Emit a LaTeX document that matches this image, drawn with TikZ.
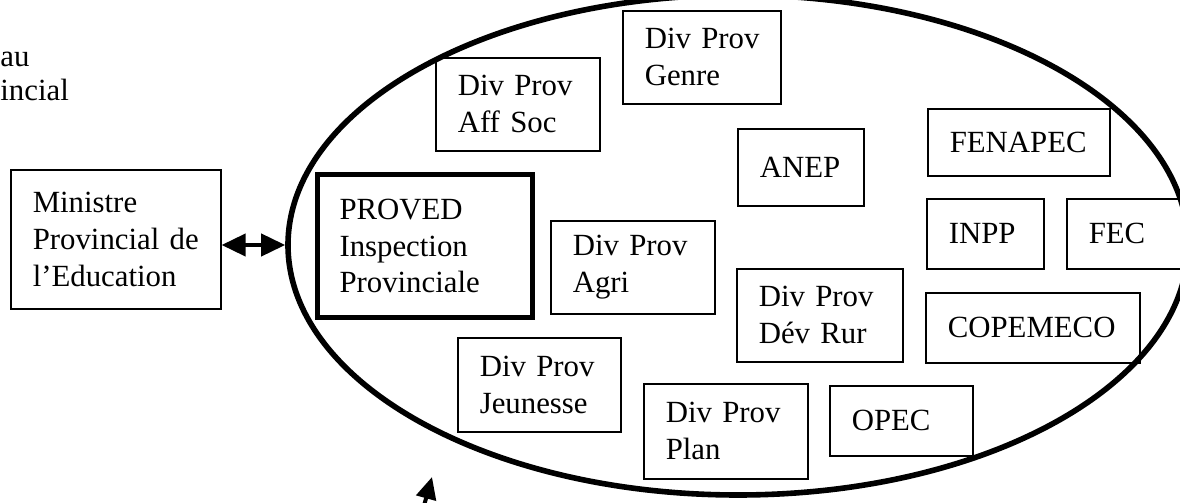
\documentclass[tikz,border=0pt]{standalone}
\usepackage{fontspec}
\setmainfont{Liberation Serif}
\usepackage{tikz}
\usetikzlibrary{calc}
\usetikzlibrary{arrows.meta}
\usetikzlibrary{shapes.geometric}
\newcommand{\orgfont}{\fontsize{15.4pt}{18.4pt}\selectfont}
\tikzset{
    orgbox/.style 2 args={draw, line width=0.8pt, anchor=north west, align=left,
        inner xsep=11pt, inner ysep=0pt, text width=#1, minimum height=#2, font=\orgfont},
    headbox/.style={line width=2.5pt},
    bothways/.style={line width=2pt, {Triangle[length=12pt, width=11pt]}-{Triangle[length=12pt, width=11pt]}},
    pointer/.style={line width=2pt, -{Triangle[length=11pt, width=10pt]}}
}
\begin{document}
\begin{tikzpicture}[x=0.5pt, y=0.5pt]
            % Frame to fix the page:
            \useasboundingbox                                                 (0, 0) rectangle (1180, -503);
            % Cut-off title, top left
            \node[anchor=base west, inner sep=0pt, font=\orgfont] (niveau)     at (0, -66)    {au};
            \node[anchor=base west, inner sep=0pt, font=\orgfont] (provincial) at (0, -100)   {incial};
            % Provincial zone
            \node[draw, ellipse, line width=2.8pt, minimum width=450pt, minimum height=250pt, inner sep=0pt]
                 (zone) at (738, -245) {};
            % Outside the zone
            \node[orgbox={83pt}{69.5pt}]            (ministre)  at (10, -169)   {Ministre\\Provincial de\\l’Education};
            % Inside the zone
            \node[orgbox={85.5pt}{71.5pt}, headbox] (proved)    at (315, -172)  {PROVED\\Inspection\\Provinciale};
            \node[orgbox={60pt}{46.5pt}]            (affsoc)    at (435, -57)   {Div~Prov\\Aff Soc};
            \node[orgbox={57pt}{46.5pt}]            (genre)     at (622, -10)   {Div~Prov\\Genre};
            \node[orgbox={41pt}{38.5pt}]            (anep)      at (737, -128)  {ANEP};
            \node[orgbox={69pt}{33.5pt}]            (fenapec)   at (927, -108)  {FENAPEC};
            \node[orgbox={36.5pt}{35pt}]            (inpp)      at (926, -198)  {INPP};
            \node[orgbox={38pt}{35pt}]              (fec)       at (1066, -198) {FEC};
            \node[orgbox={60pt}{46.5pt}]            (agri)      at (550, -220)  {Div~Prov\\Agri};
            \node[orgbox={61pt}{46.5pt}]            (devrur)    at (736, -268)  {Div~Prov\\Dév Rur};
            \node[orgbox={85pt}{35pt}]              (copemeco)  at (925, -292)  {COPEMECO};
            \node[orgbox={59.5pt}{47pt}]            (jeunesse)  at (457, -337)  {Div~Prov\\Jeunesse};
            \node[orgbox={60pt}{47.5pt}]            (plan)      at (643, -383)  {Div~Prov\\Plan};
            \node[orgbox={49.5pt}{35pt}]            (opec)      at (829, -385)  {OPEC};
            % Links
            \draw[bothways] (ministre.east |- zone.west) -- (zone.west);
            \coordinate (pointerfoot) at (420, -520);
            \coordinate (pointertip)  at (432, -477);
            \draw[pointer]  (pointerfoot) -- (pointertip);
        \end{tikzpicture}
\end{document}
